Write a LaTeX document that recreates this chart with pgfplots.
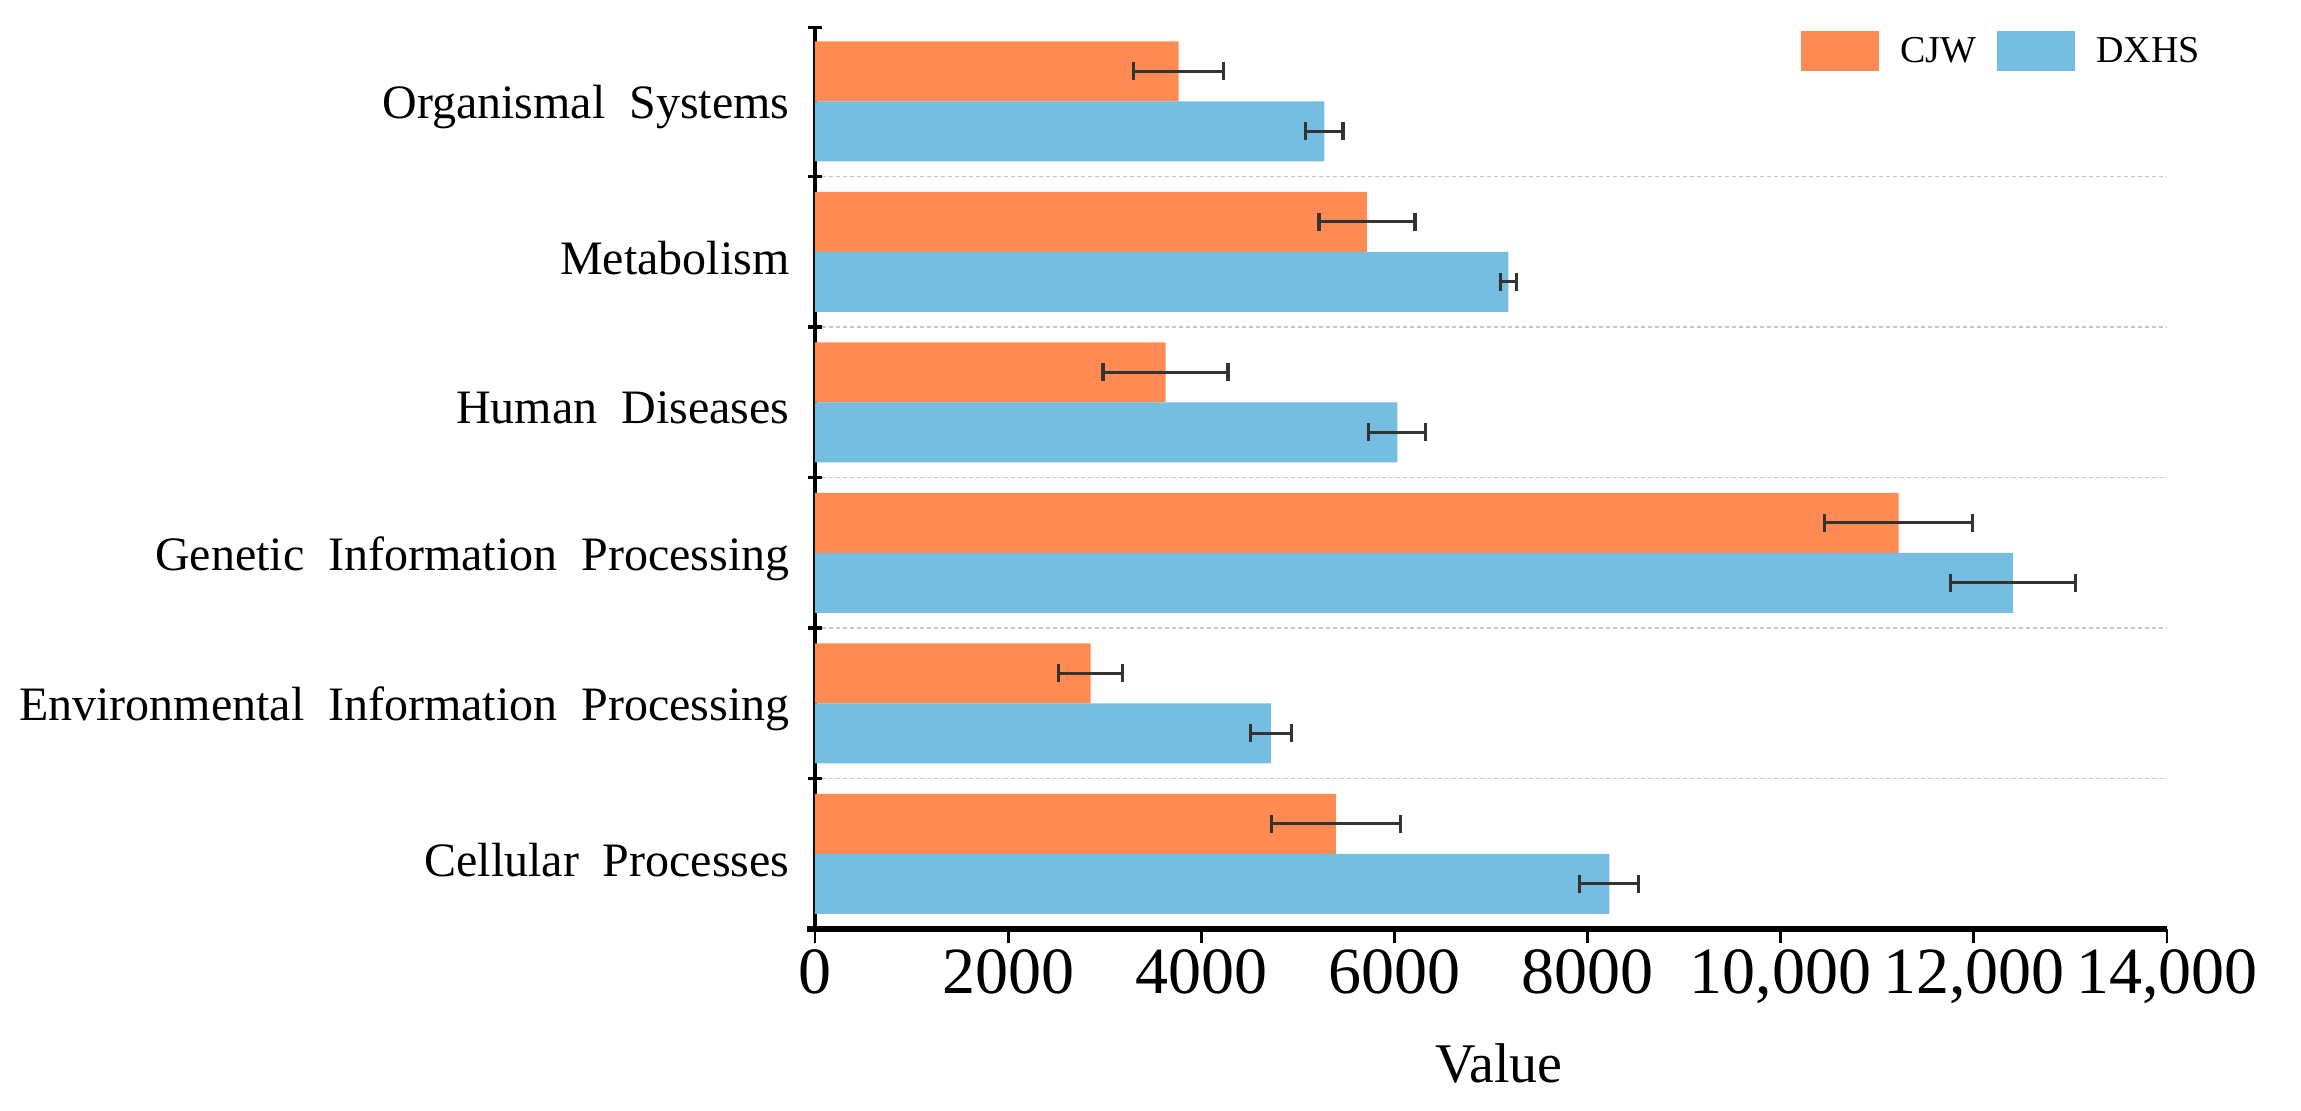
\documentclass[border=0pt]{standalone}
\usepackage{fontspec}
\setmainfont{Liberation Serif}
\usepackage{pgfplots}
\usepackage{pgfplotstable}
\pgfplotsset{compat=1.18}
\usetikzlibrary{arrows.meta}

\definecolor{cjw}{RGB}{255,138,84}
\definecolor{dxhs}{RGB}{118,189,226}

% y = category position (0 = bottom), values and error half-widths
\pgfplotstableread{
y cjw  cjwerr dxhs  dxhserr
0 5395 664    8225  305
1 2855 330    4720  212
2 11220 766   12405 650
3 3630 647    6030  295
4 5715 497    7180  83
5 3765 466    5275  192
}\kegg

\begin{document}
\begin{tikzpicture}
\useasboundingbox (-407.5pt,-90.5pt) rectangle (743pt,464.5pt);
\begin{axis}[
  at={(0,0)}, anchor=south west,
  scale only axis,
  width=676pt, height=451.5pt,
  xbar,
  bar width=30pt,
  xmin=0, xmax=14000,
  ymin=-0.5, ymax=5.5,
  axis x line*=bottom,
  axis y line*=left,
  x axis line style={line width=2.8pt, shorten <=-4pt},
  y axis line style={line width=2pt, -{Bar[width=7pt,line width=1.6pt]}},
  scaled x ticks=false,
  xtick={0,2000,4000,6000,8000,10000,12000,14000},
  xticklabels={0,2000,4000,6000,8000,{10,000},{12,000},{14,000}},
  xtick align=outside,
  major tick length=7pt,
  xtick style={line width=1.4pt, black},
  ytick={0,1,2,3,4,5},
  yticklabels={Cellular~~Processes,
    Environmental~~Information~~Processing,
    Genetic~~Information~~Processing,
    Human~~Diseases,
    Metabolism,
    Organismal~~Systems},
  major y tick style={draw=none},
  minor ytick={0.5,1.5,2.5,3.5,4.5},
  minor tick length=7pt,
  ytick align=center,
  minor y tick style={line width=1.6pt, black},
  yminorgrids=true,
  minor grid style={gray!45, line width=0.8pt, dash pattern=on 2pt off 1.5pt},
  /pgf/number format/assume math mode=true,
  xticklabel style={font=\fontsize{33}{38}\selectfont, inner sep=0pt, yshift=-3pt, anchor=north},
  yticklabel style={font=\fontsize{24}{29}\selectfont, inner sep=0pt, xshift=-9pt, yshift=-3pt, anchor=east},
  xlabel={Value},
  xlabel style={font=\fontsize{28}{32}\selectfont, at={(axis description cs:0.5,0)},
    anchor=north, yshift=-57pt, xshift=4pt, inner sep=0pt},
  legend columns=2,
  legend image code/.code={\fill[#1] (0pt,-10pt) rectangle (39pt,10pt);},
  legend style={at={(axis description cs:0.7293,0.9723)}, anchor=west,
    draw=none, fill=none, inner sep=0pt,
    nodes={inner sep=0pt},
    /tikz/column sep=10.5pt,
    font=\fontsize{19}{22}\selectfont},
]
\addplot[fill=cjw, draw=none, bar shift=15pt,
  error bars/.cd, x dir=both, x explicit,
  error bar style={line width=1.6pt, draw=black!80},
  error mark=|,
  error mark options={line width=1.6pt, draw=black!80, mark size=4.5pt}]
  table[x=cjw, y=y, x error=cjwerr] {\kegg};
\addplot[fill=dxhs, draw=none, bar shift=-15pt,
  error bars/.cd, x dir=both, x explicit,
  error bar style={line width=1.6pt, draw=black!80},
  error mark=|,
  error mark options={line width=1.6pt, draw=black!80, mark size=4.5pt}]
  table[x=dxhs, y=y, x error=dxhserr] {\kegg};
\legend{CJW, DXHS}
\end{axis}
\end{tikzpicture}
\end{document}
